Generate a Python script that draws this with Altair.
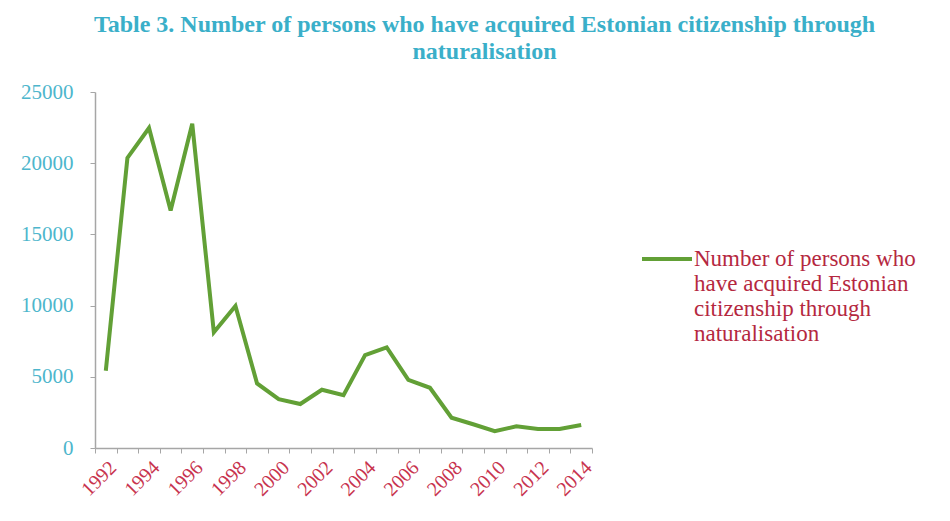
import altair as alt
import pandas as pd

years = list(range(1992, 2015))
persons = [5421, 20370, 22474, 16674, 22773, 8124, 9969, 4534, 3425, 3090, 4091,
           3706, 6523, 7072, 4781, 4228, 2124, 1670, 1184, 1518, 1339, 1330, 1614]
series_name = "Number of persons who have acquired Estonian citizenship through naturalisation"
title_lines = ["Table 3. Number of persons who have acquired Estonian citizenship through",
               "naturalisation"]
y_ticks = [0, 5000, 10000, 15000, 20000, 25000]

df = pd.DataFrame({"year": years, "persons": persons, "series": series_name})

SERIF = "Liberation Serif"

chart = alt.Chart(df).mark_line(strokeWidth=4, color="#62A036").encode(
    x=alt.X("year:O", title=None,
            axis=alt.Axis(tickBand="extent", labelAngle=-45, labelAlign="right",
                          labelBaseline="top", labelFont=SERIF, labelFontSize=20,
                          labelColor="#C8344F", labelOverlap=False, labelPadding=4,
                          labelExpr="datum.value % 2 == 0 ? datum.label : ''",
                          domainColor="#A6A6A6", tickColor="#A6A6A6", tickSize=5,
                          domainWidth=1.5)),
    y=alt.Y("persons:Q", title=None,
            scale=alt.Scale(domain=[0, 25000], nice=False),
            axis=alt.Axis(values=y_ticks, format="d", grid=False,
                          labelFont=SERIF, labelFontSize=21, labelColor="#4DB6CC",
                          labelPadding=17, domainColor="#A6A6A6", tickColor="#A6A6A6",
                          tickSize=5, domainWidth=1.5)),
    color=alt.Color("series:N", scale=alt.Scale(range=["#62A036"]),
                    legend=alt.Legend(title=None, orient="none", legendX=545, legendY=140,
                                      symbolType="stroke", symbolSize=2500,
                                      symbolStrokeWidth=4, labelFont=SERIF,
                                      labelFontSize=23, labelColor="#B5283F",
                                      labelLimit=400, labelOffset=0,
                                      labelBaseline="middle",
                                      labelExpr="['Number of persons who', 'have acquired Estonian', 'citizenship through', 'naturalisation']")),
).properties(
    width=497, height=356,
    title=alt.TitleParams(title_lines, font=SERIF, fontSize=24, fontWeight="bold",
                          color="#3AAFC9", anchor="middle", dx=141, dy=-5,
                          lineHeight=27, offset=12),
    padding={"left": 87, "top": 84, "right": 345, "bottom": 60},
    autosize=alt.AutoSizeParams(type="none"),
).configure_view(stroke=None)

chart.save("out.html", embed_options={"renderer": "svg", "actions": False})
